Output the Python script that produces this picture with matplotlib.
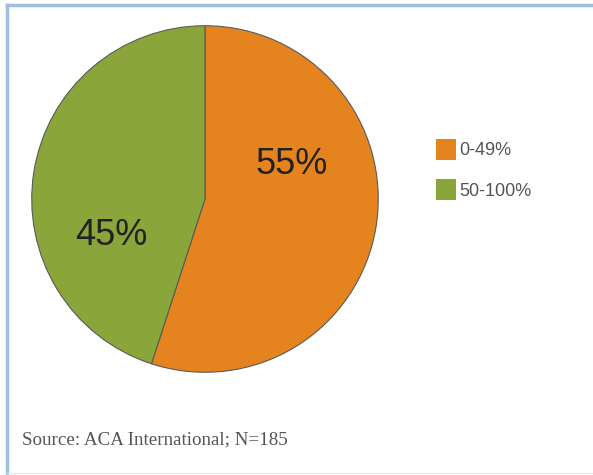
import matplotlib.pyplot as plt
from matplotlib.patches import Patch

labels = ['0-49%', '50-100%']
shares = [55, 45]
colors = ['#E5841F', '#8AA63A']
pct_pos = [(0.50, 0.20), (-0.54, -0.21)]

W, H = 593, 475
fig = plt.figure(figsize=(W / 100, H / 100), dpi=100)
fig.patch.set_facecolor('white')

# pie centred at about (205, 199) px, radius 175 px
cx, cy, r = 205, 199, 175
ax = fig.add_axes([(cx - r) / W, (H - cy - r) / H, 2 * r / W, 2 * r / H])
wedges, _ = ax.pie(shares, colors=colors, startangle=90, counterclock=False,
                   wedgeprops=dict(edgecolor='#5a5a5a', linewidth=0.8))
ax.set_xlim(-1.01, 1.01)
ax.set_ylim(-1.01, 1.01)
ax.axis('off')

for s, (x, y) in zip(shares, pct_pos):
    ax.text(x, y, f'{s}%', ha='center', va='center', fontsize=26,
            color='#222222', family='Liberation Sans')

handles = [Patch(facecolor=c, edgecolor='none') for c in colors]
fig.legend(handles, labels, loc='upper left', bbox_to_anchor=(420 / W, 1 - 123 / H),
           frameon=False, handlelength=1.1, handleheight=1.35,
           handletextpad=0.2, labelspacing=1.1, labelcolor='#555555',
           prop={'family': 'Liberation Sans', 'size': 13})

fig.text(22 / W, 1 - 440 / H, 'Source: ACA International; N=185', ha='left', va='center',
         fontsize=13.7, color='#555555', family='Liberation Serif')

# light blue frame (top and left edges visible)
fig.add_artist(plt.Line2D([7 / W, 1], [1 - 5 / H, 1 - 5 / H], color='#9fbfdc', lw=2.5))
fig.add_artist(plt.Line2D([7 / W, 7 / W], [0, 1 - 5 / H], color='#9fbfdc', lw=2.5))
fig.add_artist(plt.Line2D([7 / W, 1], [2 / H, 2 / H], color='#dde8f0', lw=1))

fig.savefig('out.png', dpi=100)
